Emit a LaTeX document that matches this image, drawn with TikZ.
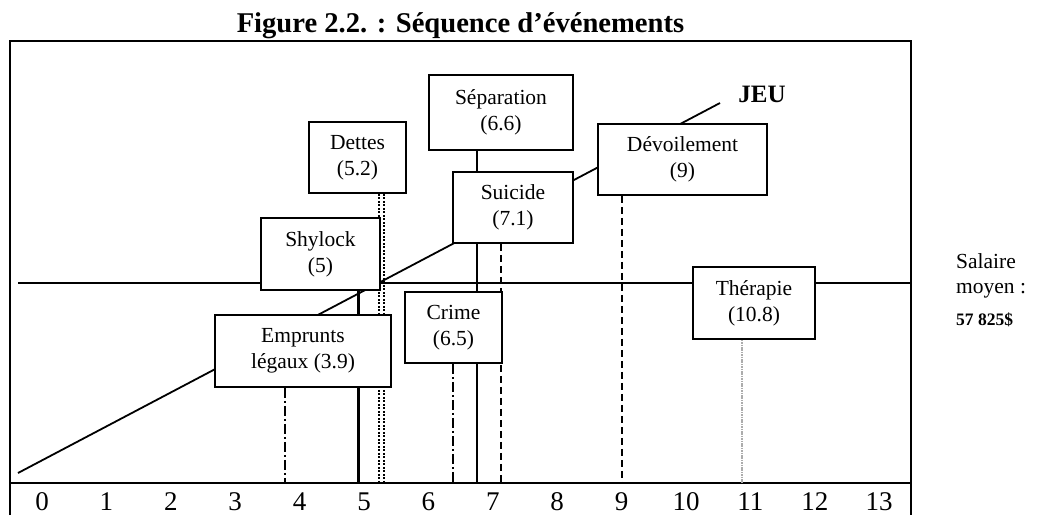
\documentclass[tikz,border=0pt]{standalone}
\usepackage{fontspec}
\setmainfont{Liberation Serif}
\usetikzlibrary{backgrounds}
\begin{document}
\begin{tikzpicture}[x=1pt,y=-1pt,
  box/.style={draw, line width=1.6pt, fill=white, align=center, inner sep=0pt,
    font=\fontsize{21.5}{26}\selectfont},
  rule/.style={line width=1.6pt},
  dashdotline/.style={line width=1.6pt, dash pattern=on 10pt off 3pt on 2pt off 3pt},
  dashline/.style={line width=1.6pt, dash pattern=on 7pt off 4pt},
  dotline/.style={line width=1.6pt, dash pattern=on 2pt off 1.5pt},
  graydot/.style={line width=2.6pt, gray!65, dash pattern=on 1.6pt off 0.8pt},
  ticklabel/.style={font=\fontsize{27}{32}\selectfont, anchor=base},
  salaire/.style={font=\fontsize{21.5}{25}\selectfont, anchor=base west, inner sep=0pt},
]
\useasboundingbox (0,0) rectangle (1043,515);

% title
\node[font=\bfseries\fontsize{28.6}{33}\selectfont, anchor=base] (title) at (460.5,32) {Figure 2.2. : Séquence d’événements};

% boxes
\node[box, minimum width=144pt, minimum height=75pt] (sep) at (501,112.5) {Séparation\\(6.6)};
\node[box, minimum width=97pt, minimum height=71pt] (det) at (357.5,157.5) {Dettes\\(5.2)};
\node[box, minimum width=119pt, minimum height=72pt] (shy) at (320.5,254) {Shylock\\(5)};
\node[box, minimum width=120pt, minimum height=71pt] (sui) at (513,207.5) {Suicide\\(7.1)};
\node[box, minimum width=169pt, minimum height=71pt] (dev) at (682.5,159.5) {Dévoilement\\(9)};
\node[box, minimum width=176pt, minimum height=72pt] (emp) at (303,351) {Emprunts\\légaux (3.9)};
\node[box, minimum width=97pt, minimum height=71pt] (cri) at (453.5,327.5) {Crime\\(6.5)};
\node[box, minimum width=122pt, minimum height=72pt] (the) at (754,303) {Thérapie\\(10.8)};

% JEU label
\node[font=\bfseries\fontsize{25}{29}\selectfont, anchor=base] (jeu) at (762,102) {JEU};

% salaire label
\node[salaire] (sal1) at (956,268) {Salaire};
\node[salaire] (sal2) at (956,293) {moyen :};
\node[salaire, font=\bfseries\fontsize{17.5}{20}\selectfont] (sal3) at (956,325) {57 825\$};

% tick labels
\foreach \i in {0,...,13}
  \node[ticklabel] (t\i) at ({42+64.4*\i},510) {\i};

% coordinates
\coordinate (fbl) at (10,515);
\coordinate (ftl) at (10,41);
\coordinate (ftr) at (911,41);
\coordinate (fbr) at (911,515);
\coordinate (axl) at (10,483);
\coordinate (axr) at (911,483);
\coordinate (sall) at (18,283);
\coordinate (salr) at (911,283);
\coordinate (jeus) at (18,473);
\coordinate (jeue) at (720,103);
\coordinate (xemp) at (285,483);
\coordinate (xshy) at (358,483);
\coordinate (xdeta) at (379,483);
\coordinate (xdetb) at (384,483);
\coordinate (xcri) at (453,483);
\coordinate (xsep) at (477,483);
\coordinate (xsui) at (501,483);
\coordinate (xdev) at (622,483);
\coordinate (xthe) at (742,483);

\begin{pgfonlayer}{background}
\draw[rule] (fbl) -- (ftl) -- (ftr) -- (fbr);
\draw[rule] (axl) -- (axr);
\draw[rule] (sall) -- (salr);
\draw[line width=1.8pt] (jeus) -- (jeue);
\draw[dashdotline] (xemp |- emp.south) -- (xemp);
\draw[line width=3pt] (xshy |- shy.south) -- (xshy);
\draw[dotline] (xdeta |- det.south) -- (xdeta);
\draw[dotline] (xdetb |- det.south) -- (xdetb);
\draw[dashdotline] (xcri |- cri.south) -- (xcri);
\draw[line width=1.5pt] (xsep |- sep.south) -- (xsep);
\draw[dashline] (xsui |- sui.south) -- (xsui);
\draw[dashline] (xdev |- dev.south) -- (xdev);
\draw[graydot] (xthe |- the.south) -- (xthe);
\end{pgfonlayer}
\end{tikzpicture}
\end{document}
